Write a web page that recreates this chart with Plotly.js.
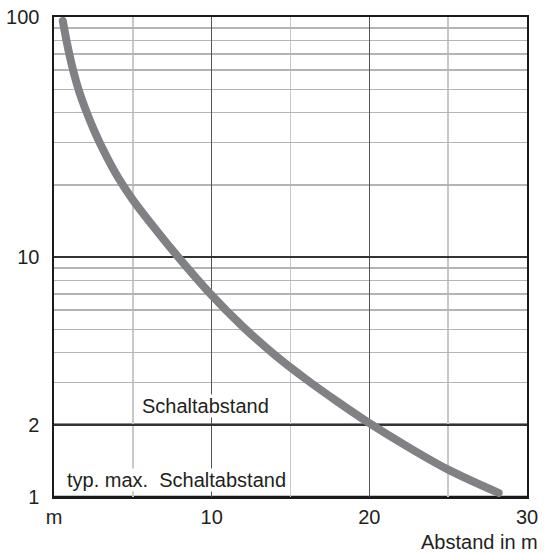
<!DOCTYPE html>
<html>
<head>
<meta charset="utf-8">
<script src="https://cdn.plot.ly/plotly-3.0.1.min.js"></script>
<style>
  html, body { margin: 0; padding: 0; background: #fff; }
  #chart { width: 544px; height: 552px; }
  .scatterlayer .js-line { stroke-linecap: round; stroke-linejoin: round; }
</style>
</head>
<body>
<div id="chart"></div>
<script>
// Distance (m) vs. excess gain factor (log scale)
const distance = [0.56, 0.8,  1.0,  1.3,  1.6,  2.0,  2.5,  3.0,  4.0,  5.0,  6.5,  8.0,  10,   12,   14,   16,   18,   20,   22.5, 25,   28.2];
const gain     = [96.2, 79.3, 68.7, 57.0, 48.8, 41.2, 34.2, 29.0, 21.8, 17.3, 12.9, 9.78, 6.93, 5.11, 3.91, 3.09, 2.49, 2.03, 1.61, 1.30, 1.04];

const xTickVals = [0, 10, 20, 30];
const xTickText = ['m', '10', '20', '30'];
const xMinorVals = [5, 15, 25];
const yTickVals = [1, 2, 10, 100];
const yTickText = ['1', '2', '10', '100'];
const yMinorVals = [3, 4, 5, 6, 7, 8, 9, 20, 30, 40, 50, 60, 70, 80, 90];

const thresholds = [2, 1];
const thresholdLabels = ['Schaltabstand', 'typ. max.\u00a0\u00a0Schaltabstand'];
const thresholdLabelX = [5.53, 0.77];
const xTitle = 'Abstand in m';

const FONT = { family: 'Liberation Sans, Arial, sans-serif', size: 20, color: '#231f20' };

const trace = {
  x: distance,
  y: gain,
  type: 'scatter',
  mode: 'lines',
  line: { color: '#808184', width: 8, shape: 'spline', smoothing: 1 },
  hoverinfo: 'skip'
};

const layout = {
  width: 544,
  height: 552,
  margin: { l: 54, r: 17, t: 17, b: 55 },
  paper_bgcolor: '#ffffff',
  plot_bgcolor: '#ffffff',
  showlegend: false,
  font: FONT,
  xaxis: {
    range: [0, 30],
    tickmode: 'array',
    tickvals: xTickVals,
    ticktext: xTickText,
    ticks: 'outside',
    ticklen: 1,
    tickcolor: 'rgba(0,0,0,0)',
    tickfont: FONT,
    showgrid: true,
    gridcolor: '#555555',
    gridwidth: 1.2,
    minor: { tickmode: 'array', tickvals: xMinorVals, showgrid: true, gridcolor: '#c8c8c8', gridwidth: 1.6, ticks: '' },
    showline: true,
    linecolor: '#1a1a1a',
    linewidth: 2,
    mirror: true,
    zeroline: false,
    fixedrange: true
  },
  yaxis: {
    type: 'log',
    range: [0, 2],
    tickmode: 'array',
    tickvals: yTickVals,
    ticktext: yTickText,
    ticks: 'outside',
    ticklen: 9,
    tickcolor: 'rgba(0,0,0,0)',
    tickfont: FONT,
    showgrid: true,
    gridcolor: '#333333',
    gridwidth: 1.5,
    minor: { tickmode: 'array', tickvals: yMinorVals, showgrid: true, gridcolor: '#b4b4b4', gridwidth: 1.5, ticks: '' },
    showline: true,
    linecolor: '#1a1a1a',
    linewidth: 1.6,
    mirror: true,
    zeroline: false,
    fixedrange: true
  },
  shapes: thresholds.map(v => ({
    type: 'line', xref: 'paper', x0: 0, x1: 1, yref: 'y', y0: v, y1: v,
    line: { color: '#1a1a1a', width: 2.5 }, layer: 'below'
  })),
  annotations: thresholds.map((v, i) => ({
    text: thresholdLabels[i],
    xref: 'x', x: thresholdLabelX[i], xanchor: 'left',
    yref: 'y', y: Math.log10(v), yanchor: 'bottom', yshift: i === 0 ? 7 : 5,
    showarrow: false, bgcolor: '#ffffff', borderpad: 0, font: FONT
  })).concat([{
    text: xTitle,
    xref: 'paper', x: 1, xanchor: 'right', xshift: 13,
    yref: 'paper', y: 0, yanchor: 'top', yshift: -32,
    showarrow: false, font: FONT
  }])
};

Plotly.newPlot('chart', [trace], layout, { displayModeBar: false, staticPlot: true });
</script>
</body>
</html>
